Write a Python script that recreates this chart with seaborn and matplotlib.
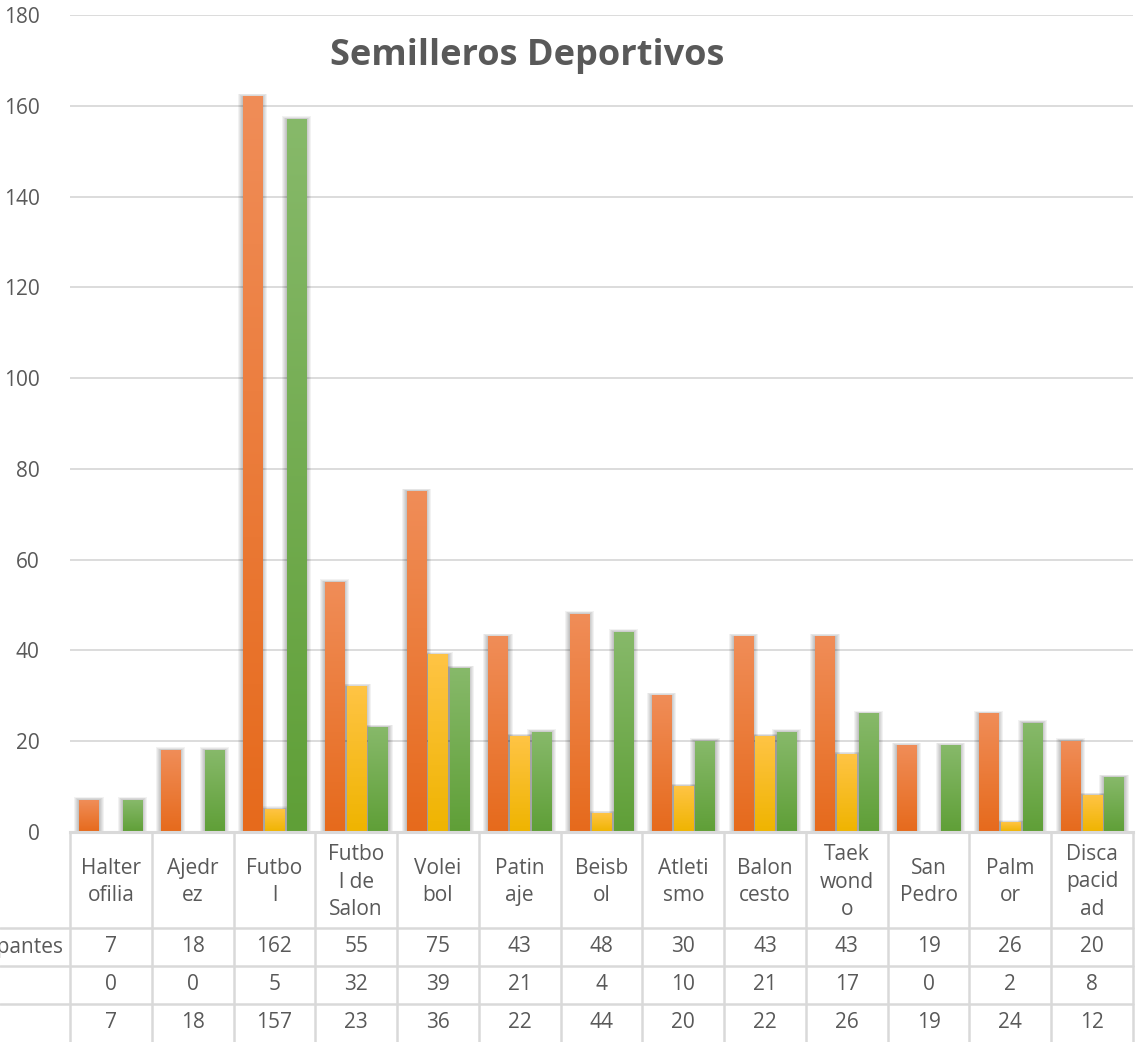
import numpy as np
import pandas as pd
import matplotlib
matplotlib.use("Agg")
import matplotlib.pyplot as plt
import matplotlib.transforms as mtransforms
from matplotlib.colors import LinearSegmentedColormap
from matplotlib.patches import Rectangle
from matplotlib.lines import Line2D
import seaborn as sns

# datos
deportes = ["Halterofilia", "Ajedrez", "Futbol", "Futbol de Salon", "Voleibol", "Patinaje",
            "Beisbol", "Atletismo", "Baloncesto", "Taekwondo", "San Pedro", "Palmor", "Discapacidad"]
etiquetas = ["Halter\nofilia", "Ajedr\nez", "Futbo\nl", "Futbo\nl de\nSalon", "Volei\nbol", "Patin\naje",
             "Beisb\nol", "Atleti\nsmo", "Balon\ncesto", "Taek\nwond\no", "San\nPedro", "Palm\nor",
             "Disca\npacid\nad"]
series = ["Participantes", "Mujeres", "Hombres"]
participantes = [7, 18, 162, 55, 75, 43, 48, 30, 43, 43, 19, 26, 20]
mujeres = [0, 0, 5, 32, 39, 21, 4, 10, 21, 17, 0, 2, 8]
hombres = [7, 18, 157, 23, 36, 22, 44, 20, 22, 26, 19, 24, 12]
yticks = [0, 20, 40, 60, 80, 100, 120, 140, 160, 180]

valores = [participantes, mujeres, hombres]
df = pd.DataFrame({
    "deporte": deportes * 3,
    "serie": [s for s in series for _ in deportes],
    "valor": participantes + mujeres + hombres,
})

# colores (oscuro abajo -> claro arriba)
base = ["#EE7D35", "#FFC000", "#70AD47"]
degradados = [("#E66A1C", "#F08D58"), ("#EFB400", "#FFC445"), ("#5F9F37", "#87B96A")]
gris = "#595959"
linea = "#D9D9D9"

sns.set_style("white")
plt.rcParams["font.family"] = ["Open Sans", "DejaVu Sans"]

W, H = 1140, 1042
fig = plt.figure(figsize=(W / 100, H / 100), dpi=100)
ax = fig.add_axes([70 / W, 1 - 832 / H, (1133 - 70) / W, (832 - 15) / H])

sns.barplot(data=df, x="deporte", y="valor", hue="serie", order=deportes, hue_order=series,
            palette=base, saturation=1, width=0.8, legend=False, ax=ax)

bw = 0.235
px = 1 / 81.8          # un pixel en unidades x
py_u = 20 / 90.8       # un pixel en unidades y
grad = np.linspace(0, 1, 256).reshape(-1, 1)
for cont, (c0, c1) in zip(ax.containers, degradados):
    cmap = LinearSegmentedColormap.from_list("g", [c0, c1])
    for bar in cont:
        h = bar.get_height()
        cx = bar.get_x() + bar.get_width() / 2
        bar.set_visible(False)
        if h <= 0:
            continue
        x0 = cx - bw / 2
        # sombra suave alrededor de la barra
        for k in [5, 4, 3, 2, 1]:
            ax.add_patch(Rectangle((x0 - k * px, 0), bw + 2 * k * px, h + k * 0.6 * py_u,
                                   color="black", alpha=0.05, lw=0, zorder=2))
        ax.imshow(grad, extent=[x0, x0 + bw, 0, h], origin="lower", aspect="auto",
                  cmap=cmap, zorder=3, interpolation="bilinear")

ax.set_xlim(-0.5, len(deportes) - 0.5)
ax.set_ylim(0, 180)
ax.set_yticks(yticks)
ax.yaxis.grid(True, color=linea, lw=1.3)
ax.set_axisbelow(True)
for s in ["top", "right", "left"]:
    ax.spines[s].set_visible(False)
ax.spines["bottom"].set_color(linea)
ax.spines["bottom"].set_linewidth(2.2)
ax.spines["bottom"].set_zorder(4)
ax.set_xticks(range(len(deportes)))
ax.set_xticklabels([])
ax.set_xlabel("")
ax.set_ylabel("")
ax.tick_params(axis="x", length=0)
ax.tick_params(axis="y", length=0, pad=22, labelsize=15, labelcolor=gris)

# tabla de datos
fy = lambda p: 1 - p / H
trans = mtransforms.blended_transform_factory(ax.transData, fig.transFigure)
for k in range(len(deportes) + 1):
    x = -0.5 + k
    ax.plot([x, x], [fy(833), fy(1042)], transform=trans, clip_on=False, color=linea, lw=1.8)
for p in [928, 966, 1004]:
    fig.add_artist(Line2D([0, 1133 / W], [fy(p), fy(p)], transform=fig.transFigure,
                          color=linea, lw=1.8))

for i, lab in enumerate(etiquetas):
    ax.text(i, fy(882), lab, transform=trans, ha="center", va="center", fontsize=15,
            color=gris, linespacing=1.4)
    for v, p in zip(valores, [947, 985, 1023]):
        ax.text(i, fy(p), str(v[i]), transform=trans, ha="center", va="center",
                fontsize=15, color=gris)

# solo se ve el final de la primera etiqueta de fila
fig.text(63 / W, fy(947), series[0], ha="right", va="center", fontsize=15, color=gris)

fig.text(527 / W, fy(56), "Semilleros Deportivos", ha="center", va="center",
         fontsize=26, fontweight="bold", color=gris)

fig.savefig("out.png", dpi=100)
